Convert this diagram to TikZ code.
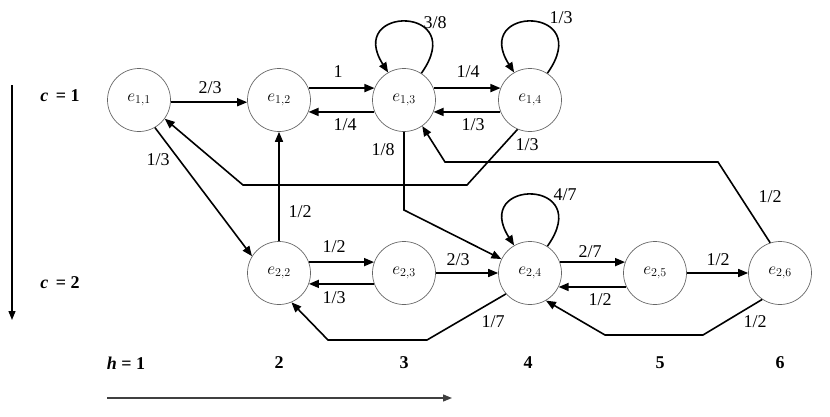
\documentclass[tikz,border=0pt]{standalone}
\usepackage{fontspec}
\setmainfont{Liberation Serif}
\usetikzlibrary{arrows.meta}
\begin{document}
\begin{tikzpicture}[x=1pt,y=-1pt,
  state/.style={circle,draw=black!60,line width=0.7pt,minimum size=63pt,inner sep=0pt,font=\fontsize{17.5}{19}\selectfont},
  arr/.style={line width=1.6pt,-{Triangle[length=10pt,width=8pt]}},
  lab/.style={font=\fontsize{18}{20}\selectfont,inner sep=0pt},
  axlab/.style={font=\fontsize{18}{20}\selectfont\bfseries,inner sep=0pt}]
\useasboundingbox (0,0) rectangle (830,416);
% nodes
\node[state] (e11) at (139,100) {$e_{1,1}$};
\node[state] (e12) at (279,100) {$e_{1,2}$};
\node[state] (e13) at (404,100) {$e_{1,3}$};
\node[state] (e14) at (530,100) {$e_{1,4}$};
\node[state] (e22) at (279,273) {$e_{2,2}$};
\node[state] (e23) at (404,273) {$e_{2,3}$};
\node[state] (e24) at (530,273) {$e_{2,4}$};
\node[state] (e25) at (655,273) {$e_{2,5}$};
\node[state] (e26) at (780,273) {$e_{2,6}$};
% axes
\coordinate (vtop) at (12,85);
\coordinate (vbot) at (12,320);
\draw[line width=1.3pt,-{Triangle[length=9pt,width=7pt]}] (vtop) -- (vbot);
\coordinate (hl) at (107,398);
\coordinate (hr) at (452,398);
\draw[line width=1.3pt,draw=black!75,-{Triangle[length=9pt,width=7pt]}] (hl) -- (hr);
\node[axlab] (c1) at (60,96) {\textit{c} \,= 1};
\node[axlab] (c2) at (60,283) {\textit{c} \,= 2};
\node[axlab] (h1) at (126,363) {\textit{h} = 1};
\node[axlab] (h2) at (279,363) {2};
\node[axlab] (h3) at (404,363) {3};
\node[axlab] (h4) at (528,363) {4};
\node[axlab] (h5) at (660,363) {5};
\node[axlab] (h6) at (780,363) {6};
% row 1 edges
\draw[arr] (e11.-4) -- (e12.184);
\draw[arr] (e12.22) -- (e13.158);
\draw[arr] (e13.-158) -- (e12.-22);
\draw[arr] (e13.22) -- (e14.158);
\draw[arr] (e14.-158) -- (e13.-22);
\draw[arr] (e13.57) .. controls (470,5) and (345,5) .. (e13.120);
\draw[arr] (e14.57) .. controls (596,5) and (471,5) .. (e14.120);
% cross edges
\draw[arr] (e11.-60) -- (e22.148);
\draw[arr] (e22.90) -- (e12.-90);
\draw[arr] (e14.-113) -- (467,185) -- (243,185) -- (e11.-36);
\draw[arr] (e26.108) -- (718,162) -- (445,162) -- (e13.-55);
\draw[arr] (e13.-90) -- (404,210) -- (e24.154);
% row 2 edges
\draw[arr] (e22.20) -- (e23.160);
\draw[arr] (e23.-160) -- (e22.-20);
\draw[arr] (e23) -- (e24);
\draw[arr] (e24.20) -- (e25.160);
\draw[arr] (e25.-154) -- (e24.-26);
\draw[arr] (e25) -- (e26);
\draw[arr] (e24.57) .. controls (596,178) and (471,178) .. (e24.120);
\draw[arr] (e24.-139) -- (427,340) -- (328,340) -- (e22.-67);
\draw[arr] (e26.-124) -- (703,335) -- (605,335) -- (e24.-60);
% labels
\node[lab] (l1) at (210,88) {2/3};
\node[lab] (l2) at (338,72) {1};
\node[lab] (l3) at (345,125) {1/4};
\node[lab] (l4) at (468,72) {1/4};
\node[lab] (l5) at (473,125) {1/3};
\node[lab] (l6) at (435,23) {3/8};
\node[lab] (l7) at (561,18) {1/3};
\node[lab] (l8) at (158,160) {1/3};
\node[lab] (l9) at (300,212) {1/2};
\node[lab] (l10) at (383,150) {1/8};
\node[lab] (l11) at (527,145) {1/3};
\node[lab] (l12) at (770,197) {1/2};
\node[lab] (l13) at (565,195) {4/7};
\node[lab] (l14) at (334,247) {1/2};
\node[lab] (l15) at (334,298) {1/3};
\node[lab] (l16) at (458,260) {2/3};
\node[lab] (l17) at (590,252) {2/7};
\node[lab] (l18) at (600,300) {1/2};
\node[lab] (l19) at (718,260) {1/2};
\node[lab] (l20) at (493,322) {1/7};
\node[lab] (l21) at (755,322) {1/2};
\end{tikzpicture}
\end{document}
